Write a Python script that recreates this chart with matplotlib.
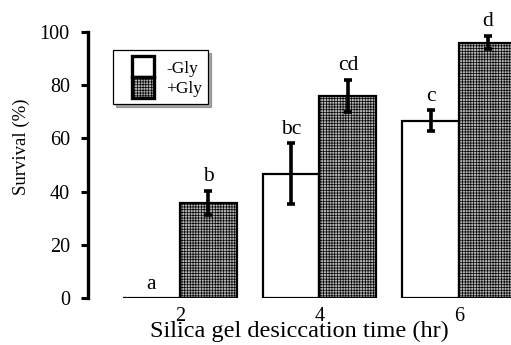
import numpy as np
import matplotlib.pyplot as plt
from matplotlib.patches import Patch, Rectangle
from matplotlib.legend_handler import HandlerPatch

times = ["2", "4", "6"]
minus_gly = [0, 46.7, 66.6]
minus_err = [0, 11.4, 3.9]
plus_gly = [35.8, 75.8, 95.9]
plus_err = [4.5, 6.0, 2.5]
minus_letters = ["a", "bc", "c"]
plus_letters = ["b", "cd", "d"]

plt.rcParams["font.family"] = ["Liberation Serif", "DejaVu Serif"]
plt.rcParams["hatch.color"] = "#7a7a7a"
plt.rcParams["hatch.linewidth"] = 0.5

fill = "#b4b4b4"
fig = plt.figure(figsize=(5.11, 3.45), dpi=100)
ax = fig.add_axes([0.172, 0.135, 0.828, 0.773])

x = np.arange(len(times))
w = 0.407
ekw = dict(elinewidth=2.6, capsize=3, capthick=2.6, ecolor="black")
ax.bar(x - w / 2, minus_gly, w, color="white", edgecolor="black", linewidth=1.6, zorder=2)
ax.bar(x + w / 2, plus_gly, w, color=fill, edgecolor="black", linewidth=1.6,
       hatch="++++++", zorder=2)
for xi, v, e in zip(x - w / 2, minus_gly, minus_err):
    if e > 0:
        ax.errorbar(xi, v, yerr=e, fmt="none", zorder=3, **ekw)
for xi, v, e in zip(x + w / 2, plus_gly, plus_err):
    ax.errorbar(xi, v, yerr=e, fmt="none", zorder=3, **ekw)

for xi, v, e, t in zip(x - w / 2, minus_gly, minus_err, minus_letters):
    ax.text(xi, v + e + 1.8, t, ha="center", va="bottom", fontsize=15.5, clip_on=False)
for xi, v, e, t in zip(x + w / 2, plus_gly, plus_err, plus_letters):
    ax.text(xi, v + e + 1.8, t, ha="center", va="bottom", fontsize=15.5, clip_on=False)

ax.set_xlim(-0.657, 2.371)
ax.set_ylim(0, 100)
ax.set_yticks(range(0, 101, 20))
ax.set_xticks(x)
ax.set_xticklabels(times, fontsize=14.5)
ax.tick_params(axis="y", direction="out", length=5, width=2.2, labelsize=14.5, pad=8)
ax.tick_params(axis="x", length=0, pad=6)
for s in ["top", "right", "bottom"]:
    ax.spines[s].set_visible(False)
ax.spines["left"].set_linewidth(2.4)
ax.set_ylabel("Survival (%)", fontsize=13.5)
ax.yaxis.set_label_coords(-0.138, 0.57)
ax.set_xlabel("Silica gel desiccation time (hr)", fontsize=17.5, labelpad=-3.5)


def offset_patch(legend, orig_handle, xdescent, ydescent, width, height, fontsize):
    pw = 15.8
    return Rectangle((width - pw - xdescent, -ydescent), pw, height)


handles = [Patch(facecolor="white", edgecolor="black", linewidth=2.4),
           Patch(facecolor=fill, edgecolor="black", linewidth=2.4, hatch="++++++")]
leg = ax.legend(handles, ["-Gly", "+Gly"], loc="upper left", bbox_to_anchor=(0.06, 0.93),
                fontsize=12.5, frameon=True, fancybox=False, shadow={"color": "#555555"},
                handlelength=2.0, handleheight=1.47, labelspacing=0.0,
                handletextpad=0.7, borderpad=0.35, borderaxespad=0,
                handler_map={Patch: HandlerPatch(patch_func=offset_patch)})
leg.get_frame().set_edgecolor("black")
leg.get_frame().set_linewidth(0.9)

fig.savefig("out.png", dpi=100)
